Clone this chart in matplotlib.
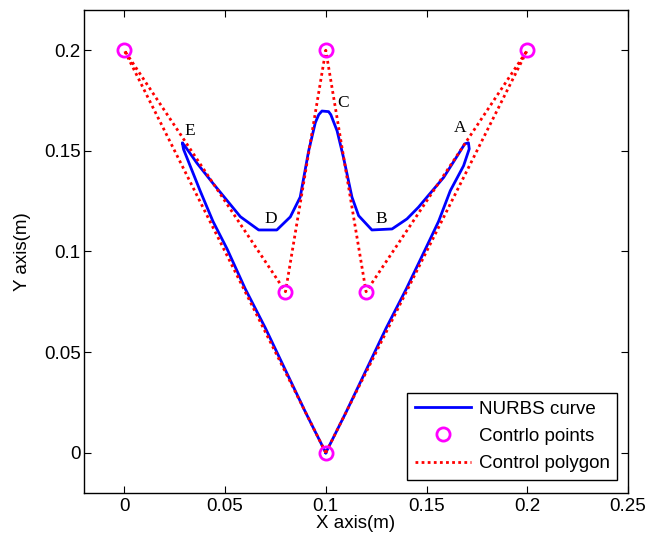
import matplotlib
matplotlib.use("Agg")
import matplotlib.pyplot as plt

# Control points / polygon (closed)
ctrl_x = [0.10, 0.20, 0.12, 0.10, 0.08, 0.00, 0.10]
ctrl_y = [0.00, 0.20, 0.08, 0.20, 0.08, 0.20, 0.00]

# NURBS curve (closed loop)
curve_x = [0.100, 0.110, 0.120, 0.130, 0.140, 0.1495, 0.1560, 0.1618, 0.1684, 0.1712,
           0.1708, 0.1690, 0.1640, 0.1585, 0.1502, 0.1460, 0.1403, 0.1329, 0.1229,
           0.1163, 0.1130, 0.1088, 0.1056, 0.1025, 0.1014, 0.0981, 0.0965, 0.0948,
           0.0915, 0.0873, 0.0824, 0.0757, 0.0667, 0.0576, 0.0443, 0.0360, 0.0300,
           0.0288, 0.0294, 0.0377, 0.0440, 0.0510, 0.0600, 0.0700, 0.0800, 0.0900,
           0.100]
curve_y = [0.000, 0.020, 0.041, 0.062, 0.0815, 0.1013, 0.1150, 0.1302, 0.1426, 0.1510,
           0.1540, 0.1535, 0.1455, 0.1368, 0.1270, 0.1220, 0.1162, 0.1112, 0.1107,
           0.1178, 0.1270, 0.1467, 0.1600, 0.1680, 0.1695, 0.1698, 0.1680, 0.1640,
           0.1500, 0.1270, 0.1172, 0.1107, 0.1107, 0.1173, 0.1335, 0.1440, 0.1525,
           0.1540, 0.1508, 0.1300, 0.1150, 0.1013, 0.0815, 0.0620, 0.0410, 0.0200,
           0.000]

point_labels = ["A", "B", "C", "D", "E"]
label_x = [0.1667, 0.1275, 0.1087, 0.0725, 0.0327]
label_y = [0.1612, 0.1163, 0.1738, 0.1163, 0.1600]

x_ticks = [0, 0.05, 0.1, 0.15, 0.2, 0.25]
y_ticks = [0, 0.05, 0.1, 0.15, 0.2]

plt.rcParams['font.family'] = ['Liberation Sans', 'DejaVu Sans']

fig = plt.figure(figsize=(6.61, 5.43), dpi=100)
ax = fig.add_axes([84/661, 50/543, 544/661, 483/543])

ax.plot(curve_x, curve_y, color='#0000ff', lw=2.0, label='NURBS curve', zorder=2)
ax.plot(ctrl_x[:-1], ctrl_y[:-1], linestyle='none', marker='o', markersize=9.5,
        markerfacecolor='none', markeredgecolor='#ff00ff', markeredgewidth=2,
        label='Contrlo points', zorder=4)
ax.plot(ctrl_x, ctrl_y, color='#ff0000', lw=2.0, linestyle=(0, (1, 1.2)),
        label='Control polygon', zorder=3)

for t, lx, ly in zip(point_labels, label_x, label_y):
    ax.text(lx, ly, t, family=['Liberation Serif', 'DejaVu Serif'], fontsize=12.5,
            ha='center', va='center')

ax.set_xlim(-0.02, 0.25)
ax.set_ylim(-0.02, 0.22)
ax.set_xticks(x_ticks)
ax.set_xticklabels(['0', '0.05', '0.1', '0.15', '0.2', '0.25'])
ax.set_yticks(y_ticks)
ax.set_yticklabels(['0', '0.05', '0.1', '0.15', '0.2'])
ax.tick_params(direction='in', top=True, right=True, length=5, width=0.8,
               labelsize=13.5)
ax.tick_params(axis='x', pad=3.5)
ax.tick_params(axis='y', pad=2.5)
for s in ax.spines.values():
    s.set_linewidth(1.0)

ax.set_xlabel('X axis(m)', fontsize=13.5, labelpad=0)
ax.set_ylabel('Y axis(m)', fontsize=13.5, labelpad=9)

leg = ax.legend(loc='lower right', bbox_to_anchor=(0.98, 0.027), borderaxespad=0,
                fontsize=13.5, fancybox=False, edgecolor='black', framealpha=1,
                handlelength=3.0, borderpad=0.4, labelspacing=0.55, handletextpad=0.4)
leg.get_frame().set_linewidth(1.0)

fig.savefig('out.png', dpi=100)
